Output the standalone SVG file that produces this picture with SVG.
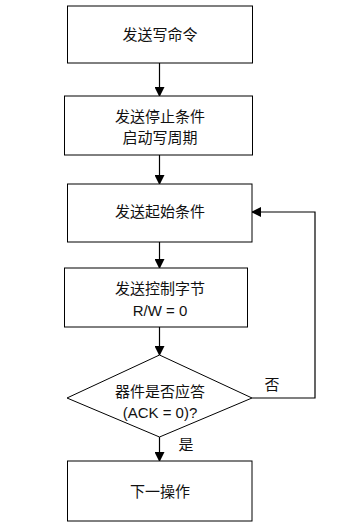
<svg xmlns="http://www.w3.org/2000/svg" width="354" height="529" viewBox="0 0 354 529">
<defs>
<marker id="arr" markerWidth="10" markerHeight="10" refX="9" refY="5" orient="auto" markerUnits="userSpaceOnUse">
<path d="M0,0 L10,5 L0,10 Z" fill="#000"/>
</marker>
<style>
.n{fill:#fff;stroke:#000;stroke-width:1}
.t{font-family:"Liberation Sans","Noto Sans CJK SC",sans-serif;font-size:15px;fill:#111;text-anchor:middle}
.c{fill:none;stroke:#000;stroke-width:1.2}
</style>
</defs>
<rect width="354" height="529" fill="#fff"/>
<g id="connectors">
<line class="c" x1="159.5" y1="63" x2="159.5" y2="96" marker-end="url(#arr)"/>
<line class="c" x1="159.5" y1="155" x2="159.5" y2="184" marker-end="url(#arr)"/>
<line class="c" x1="159.5" y1="242" x2="159.5" y2="268" marker-end="url(#arr)"/>
<line class="c" x1="159.5" y1="327" x2="159.5" y2="355" marker-end="url(#arr)"/>
<line class="c" x1="159.5" y1="437" x2="159.5" y2="461" marker-end="url(#arr)"/>
<polyline class="c" points="252,398 315,398 315,212 252,212" marker-end="url(#arr)"/>
<text class="t" x="272" y="390">否</text>
<text class="t" x="186" y="450">是</text>
</g>
<g id="n1">
<rect class="n" x="67.5" y="6" width="185" height="57"/>
<text class="t" x="160" y="40">发送写命令</text>
</g>
<g id="n2">
<rect class="n" x="64.5" y="96" width="188" height="59"/>
<text class="t" x="160" y="122">发送停止条件</text>
<text class="t" x="160" y="143">启动写周期</text>
</g>
<g id="n3">
<rect class="n" x="67.5" y="184" width="184.5" height="58"/>
<text class="t" x="160" y="217">发送起始条件</text>
</g>
<g id="n4">
<rect class="n" x="64.5" y="268" width="183" height="59"/>
<text class="t" x="160" y="294">发送控制字节</text>
<text class="t" x="160" y="316">R/W = 0</text>
</g>
<g id="n5">
<polygon class="n" points="159.5,355 252,398 159.5,437 67,398"/>
<text class="t" x="160" y="397">器件是否应答</text>
<text class="t" x="160" y="418">(ACK = 0)?</text>
</g>
<g id="n6">
<rect class="n" x="67.5" y="461" width="184.5" height="60"/>
<text class="t" x="160" y="497">下一操作</text>
</g>
</svg>
